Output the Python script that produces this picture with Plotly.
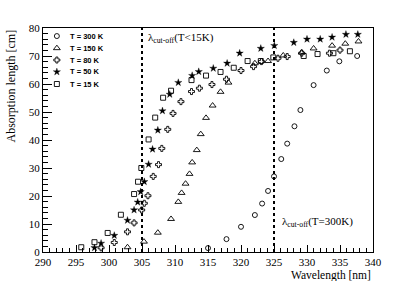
import plotly.graph_objects as go

# ---------------- data ----------------
x_300 = [315.0, 317.8, 320.0, 322.1, 323.2, 324.1, 325.0, 326.1, 327.0, 328.1, 329.0, 331.0, 333.0, 334.9, 337.6]
y_300 = [1.4, 4.6, 9.0, 13.2, 17.3, 21.8, 27.0, 33.2, 38.7, 44.9, 50.7, 59.6, 64.8, 68.1, 70.0]

x_150 = [302.8, 305.3, 307.4, 309.4, 310.5, 311.0, 311.6, 312.2, 312.6, 313.3, 313.9, 314.7, 315.7, 316.9, 318.1,
         322.1, 324.1, 326.4, 329.2, 331.0, 333.8, 335.8, 337.8]
y_150 = [1.7, 3.7, 6.9, 11.8, 17.9, 21.1, 24.4, 27.9, 32.0, 36.4, 42.1, 47.9, 52.3, 57.2, 60.5,
         67.4, 68.2, 70.2, 71.3, 72.7, 73.7, 74.4, 75.2]

x_80 = [298.8, 300.8, 302.8, 303.8, 304.95, 305.35, 305.9, 306.7, 307.5, 308.0, 308.9, 309.7, 310.9, 312.5, 313.7,
        315.6, 317.8, 320.0, 321.9, 323.1, 325.6, 327.0, 329.2, 333.4, 335.0]
y_80 = [1.5, 3.4, 7.2, 10.4, 15.0, 17.4, 20.1, 27.0, 31.2, 37.0, 43.8, 49.5, 53.7, 57.3, 58.5,
        59.8, 61.7, 64.8, 66.2, 68.0, 69.2, 69.8, 71.0, 71.0, 72.1]

x_50 = [297.8, 298.8, 300.8, 302.8, 303.8, 304.35, 304.8, 305.35, 306.0, 306.6, 307.4, 308.1, 309.2, 310.5, 312.6,
        313.6, 315.8, 317.9, 319.8, 323.0, 325.05, 328.0, 330.0, 332.0, 333.8, 335.9, 337.7]
y_50 = [1.5, 3.1, 5.9, 11.3, 15.0, 17.8, 21.5, 25.1, 31.3, 36.7, 43.5, 50.4, 56.3, 60.5, 63.0,
        64.4, 65.6, 67.4, 71.0, 72.7, 73.7, 74.8, 76.0, 76.0, 76.7, 77.7, 77.7]

x_15 = [295.8, 297.8, 299.8, 301.8, 303.8, 304.4, 304.9, 306.0, 307.0, 308.2, 309.4, 312.5, 314.7, 316.9, 318.9,
        321.0, 323.0, 324.9, 329.5, 331.6, 334.0, 336.5]
y_15 = [1.7, 3.5, 6.8, 13.3, 20.7, 25.1, 30.0, 40.2, 48.0, 55.1, 57.6, 61.4, 63.0, 64.3, 65.8,
        68.2, 68.2, 69.5, 70.0, 70.7, 71.0, 71.7]

series_names = ["T = 300 K", "T = 150 K", "T = 80 K", "T = 50 K", "T = 15 K"]
cutoffs = [305, 325]
x_ticks = [290, 295, 300, 305, 310, 315, 320, 325, 330, 335, 340]
y_ticks = [0, 10, 20, 30, 40, 50, 60, 70, 80]

# ---------------- styles ----------------
SERIF = "Liberation Serif"
SANS = "Liberation Sans"
styles = [
    dict(symbol="circle-open", size=5, color="black", line=dict(width=0.9, color="black")),
    dict(symbol="triangle-up-open", size=6, color="black", line=dict(width=0.9, color="black")),
    dict(symbol="cross-open", size=5, color="black", line=dict(width=0.9, color="black")),
    dict(symbol="star", size=5.5, color="black", line=dict(width=0.3, color="black")),
    dict(symbol="square-open", size=5, color="black", line=dict(width=0.9, color="black")),
]
xs = [x_300, x_150, x_80, x_50, x_15]
ys = [y_300, y_150, y_80, y_50, y_15]

fig = go.Figure()
for name, x, y, st in zip(series_names, xs, ys, styles):
    fig.add_trace(go.Scatter(x=x, y=y, mode="markers", name=name, marker=st, showlegend=False))

# manual compact legend (markers on an overlay axis, labels as annotations)
leg_x_marker = 0.042
leg_x_text = 0.075
leg_y = [0.964, 0.910, 0.857, 0.804, 0.750]
for name, st, ly in zip(series_names, styles, leg_y):
    fig.add_trace(go.Scatter(x=[leg_x_marker], y=[ly], mode="markers", marker=st,
                             xaxis="x2", yaxis="y2", showlegend=False, hoverinfo="skip"))
    fig.add_annotation(x=leg_x_text, y=ly, xref="paper", yref="paper", text="<b>%s</b>" % name,
                       showarrow=False, xanchor="left", yanchor="middle",
                       font=dict(family=SANS, size=7.5, color="black"))

for c in cutoffs:
    fig.add_shape(type="line", x0=c, x1=c, y0=0, y1=80, xref="x", yref="y",
                  line=dict(color="black", width=2, dash="dot"))

fig.add_annotation(x=305.6, y=76.4, xref="x", yref="y",
                   text="λ<sub>cut-off</sub>(T&lt;15K)", showarrow=False,
                   xanchor="left", yanchor="middle", font=dict(family=SERIF, size=11, color="black"))
fig.add_annotation(x=325.9, y=10.7, xref="x", yref="y",
                   text="λ<sub>cut-off</sub>(T=300K)", showarrow=False,
                   xanchor="left", yanchor="middle", font=dict(family=SERIF, size=11, color="black"))

fig.add_annotation(x=1.0, y=-0.105, xref="paper", yref="paper", text="Wavelength [nm]",
                   showarrow=False, xanchor="right", yanchor="middle",
                   font=dict(family=SERIF, size=11.5, color="black"))
fig.add_annotation(x=-0.10, y=1.0, xref="paper", yref="paper", text="Absorption length [cm]",
                   showarrow=False, xanchor="center", yanchor="top", textangle=-90,
                   font=dict(family=SERIF, size=12, color="black"))

fig.update_layout(
    width=415, height=281,
    margin=dict(l=43, r=42, t=28, b=29),
    paper_bgcolor="white", plot_bgcolor="white",
    showlegend=False,
    xaxis=dict(range=[290, 340], tickvals=x_ticks, ticks="inside", ticklen=7, tickwidth=1,
               tickcolor="black", showgrid=False, zeroline=False, showline=True, linecolor="black",
               linewidth=1, mirror=True, tickfont=dict(family=SERIF, size=11, color="black"),
               minor=dict(dtick=1, ticks="inside", ticklen=4, tickcolor="black", showgrid=False)),
    yaxis=dict(range=[0, 80], tickvals=y_ticks, ticks="inside", ticklen=9, tickwidth=1,
               tickcolor="black", showgrid=False, zeroline=False, showline=True, linecolor="black",
               linewidth=1, mirror=True, tickfont=dict(family=SERIF, size=11, color="black"),
               minor=dict(dtick=2, ticks="inside", ticklen=5, tickcolor="black", showgrid=False)),
    xaxis2=dict(overlaying="x", range=[0, 1], visible=False),
    yaxis2=dict(overlaying="y", range=[0, 1], visible=False),
)

fig.write_html("out.html",
               config={"displayModeBar": False},
               post_script="document.body.style.margin='0';document.body.style.padding='0';"
                           "document.body.style.overflow='hidden';")
